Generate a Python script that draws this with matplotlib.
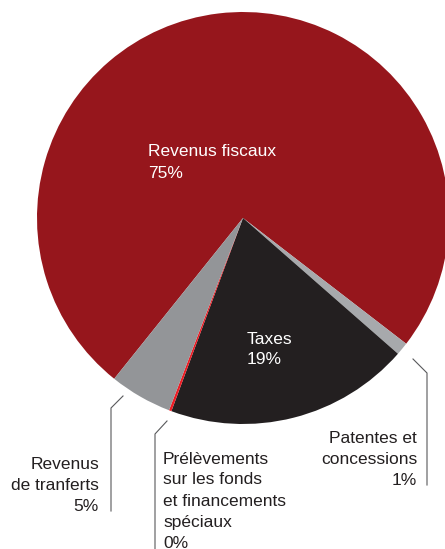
import matplotlib
matplotlib.use("Agg")
import matplotlib.pyplot as plt

plt.rcParams['font.family'] = ['Liberation Sans', 'DejaVu Sans']

# shares (clockwise order)
categories = ["Revenus fiscaux", "Patentes et concessions", "Taxes",
              "Prélèvements sur les fonds et financements spéciaux",
              "Revenus de tranferts"]
values = [74.7, 1.0, 19.2, 0.2, 4.9]
labels_pct = ["75%", "1%", "19%", "0%", "5%"]
colors = ["#96161c", "#a7a9ac", "#231f20", "#ed1c24", "#939598"]

W, H = 445, 549
fig = plt.figure(figsize=(W / 100, H / 100), dpi=100)
ax = fig.add_axes([0, 0, 1, 1])

ax.pie(values, colors=colors, startangle=-128.7, counterclock=False,
       center=(243, H - 218), radius=206,
       wedgeprops=dict(linewidth=0))

ax.set_xlim(0, W)
ax.set_ylim(0, H)
ax.set_aspect("equal")
ax.axis("off")

fs = 12.5
ls = 1.5
dark = "#231f20"

# labels inside the pie
ax.text(148, H - 162.5, "Revenus fiscaux\n" + labels_pct[0], color="white",
        fontsize=fs, ha="left", va="center", linespacing=ls)
ax.text(247, H - 349.5, "Taxes\n" + labels_pct[2], color="white",
        fontsize=fs, ha="left", va="center", linespacing=ls)

# labels outside, with leader lines
ax.text(417, H - 459.5, "Patentes et\nconcessions\n" + labels_pct[1], color=dark,
        fontsize=fs, ha="right", va="center", linespacing=ls)
ax.text(99, H - 485.5, "Revenus\nde tranferts\n" + labels_pct[4], color=dark,
        fontsize=fs, ha="right", va="center", linespacing=ls)
ax.text(163, H - 501, "Prélèvements\nsur les fonds\net financements\nspéciaux\n" + labels_pct[3],
        color=dark, fontsize=fs, ha="left", va="center", linespacing=ls)

lc = "#58595b"
ax.plot([413, 427, 427], [H - 359, H - 373, H - 485], color=lc, lw=0.8)
ax.plot([123, 111, 111], [H - 396, H - 408, H - 511], color=lc, lw=0.8)
ax.plot([167, 155, 155], [H - 421, H - 434, H - 560], color=lc, lw=0.8)

fig.savefig("out.png", dpi=100)
